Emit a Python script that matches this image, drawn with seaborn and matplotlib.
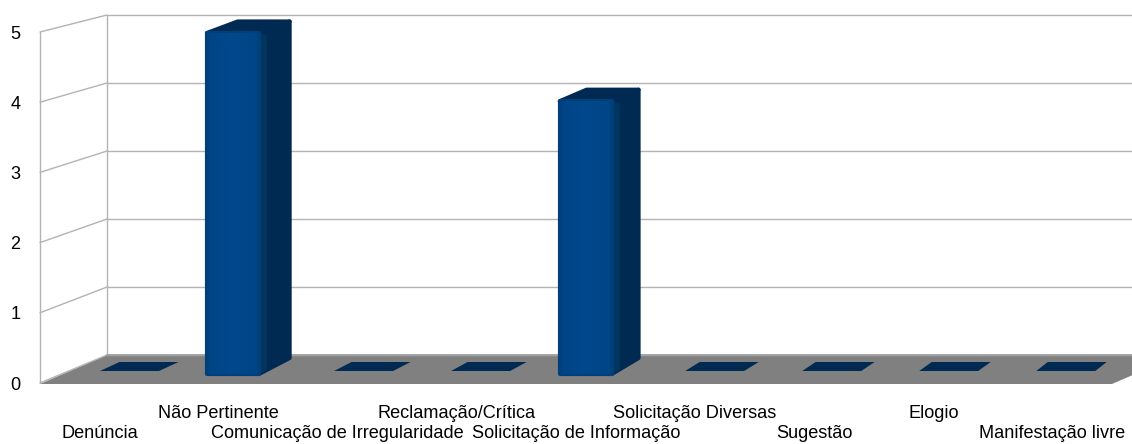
# Pseudo-3D column chart: flat bars from seaborn, walls and depth faces around them
import numpy as np
import pandas as pd
import seaborn as sns
import matplotlib.pyplot as plt
from matplotlib.colors import LinearSegmentedColormap
from matplotlib.patches import Polygon

categories = ["Denúncia", "Não Pertinente", "Comunicação de Irregularidade",
              "Reclamação/Crítica", "Solicitação de Informação", "Solicitação Diversas",
              "Sugestão", "Elogio", "Manifestação livre"]
values = [0, 5, 0, 0, 4, 0, 0, 0, 0]
y_ticks = [0, 1, 2, 3, 4, 5]

W, H = 1132, 444
BLUE = "#004586"
EDGE = "#003f7a"
DARK = "#002a52"
GRID = "#b3b3b3"
FLOOR = "#808080"

sns.set_theme(style="white")
plt.rcParams["font.family"] = ["Liberation Sans", "DejaVu Sans"]

fig = plt.figure(figsize=(W / 100, H / 100), dpi=100)


def px_axes(left, top, right, bottom, **kw):
    """Axes placed by pixel edges, y measured from the top of the image."""
    return fig.add_axes([left / W, 1 - bottom / H, (right - left) / W, (bottom - top) / H], **kw)


# pixel canvas for walls, floor and the depth faces
canvas = px_axes(0, 0, W, H, zorder=1)
canvas.set_xlim(0, W)
canvas.set_ylim(H, 0)
canvas.axis("off")

# front plane of the chart: carries the tick labels
front = px_axes(40, 32, 1112, 383, zorder=3)
front.patch.set_alpha(0)
front.set_xlim(-0.5, len(categories) - 0.5)
front.set_ylim(0, 5)
front.set_yticks(y_ticks)
front.set_xticks(range(len(categories)))
front.set_xticklabels(categories)
front.tick_params(axis="both", length=0, labelsize=13.1, labelcolor="black")
front.tick_params(axis="y", pad=14)
for i, tick in enumerate(front.xaxis.get_major_ticks()):
    tick.set_pad(16 if i % 2 else 30.4)
sns.despine(ax=front, left=True, bottom=True)

# walls
back_y = {v: 355 - 68 * v for v in y_ticks}
for v in y_ticks:
    yf = front.transData.transform((0, v))[1]
    canvas.plot([40, 107], [H - yf, back_y[v]], color=GRID, lw=1)
    canvas.plot([107, W + 50], [back_y[v], back_y[v]], color=GRID, lw=1)
canvas.plot([40, 40], [32, 383], color=GRID, lw=1)
canvas.plot([107, 107], [15, 355], color=GRID, lw=1)
canvas.add_patch(Polygon([(40, 384), (107, 355), (1179, 355), (1112, 384)], fc=FLOOR, ec="none"))
canvas.plot([107, W + 50], [355, 355], color="#9a9a9a", lw=1.2, zorder=3)

# bars in their own plane, inset by 2px because the round edge adds that back
df = pd.DataFrame({"category": categories, "value": values})
ax = px_axes(56.5, 33, 1115, 374, zorder=2)
ax.patch.set_alpha(0)
sns.barplot(data=df, x="category", y="value", color=BLUE, width=0.442, saturation=1,
            edgecolor=EDGE, linewidth=3, ax=ax)
ax.set_xlim(-0.5, len(categories) - 0.5)
ax.set_ylim(0, 5)
ax.axis("off")

shade = LinearSegmentedColormap.from_list(
    "shade", [(0, EDGE), (0.05, BLUE), (0.5, "#00498c"), (0.95, BLUE), (1, EDGE)])
for i, bar in enumerate(ax.patches):
    bar.set_joinstyle("round")
    bar.set_clip_on(False)
    (x0, y0), (x1, y1) = ax.transData.transform(
        [(bar.get_x(), 0), (bar.get_x() + bar.get_width(), bar.get_height())])
    left, right, base, top = x0, x1, H - y0, H - y1
    if bar.get_height() == 0:
        # empty category: only the footprint shows on the floor, perspective narrows to the right
        cx = (left + right) / 2 + 14.2 - 0.58 * i
        dx = 19.5 - i
        canvas.add_patch(Polygon([(cx - 29.5, 371), (cx + 29.5, 371), (cx + 29.5 + dx, 362), (cx - 29.5 + dx, 362)],
                                 fc=DARK, ec="none", zorder=4))
        bar.set_visible(False)
        continue
    dx = 32 - 1.3 * i
    canvas.add_patch(Polygon([(right, base), (right + dx, base - 16), (right + dx, top - 11.5), (right, top)],
                             fc=DARK, ec=DARK, lw=3, joinstyle="round", zorder=4))
    canvas.add_patch(Polygon([(left, top), (left + dx, top - 11.5), (right + dx, top - 11.5), (right, top)],
                             fc=DARK, ec=DARK, lw=3, joinstyle="round", zorder=4))
    # slightly lighter strip where the side meets the front
    canvas.add_patch(Polygon([(right, base), (right + 8, base - 4), (right + 8, top + 2), (right, top)],
                             fc="#00355f", ec="none", zorder=5))
    grad = ax.imshow(np.linspace(0, 1, 64)[None, :], cmap=shade, aspect="auto", zorder=3,
                     extent=(bar.get_x(), bar.get_x() + bar.get_width(), 0, bar.get_height()))
    grad.set_clip_path(bar)

ax.set_xlim(-0.5, len(categories) - 0.5)
ax.set_ylim(0, 5)

fig.savefig("out.png", dpi=100)
